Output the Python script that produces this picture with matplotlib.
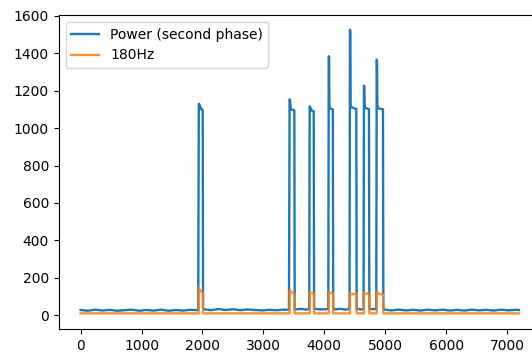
import matplotlib
matplotlib.use("Agg")
import matplotlib.pyplot as plt

# blue: "Power (second phase)" -- breakpoints
power_x = [0, 120, 240, 360, 480, 600, 720, 840, 960, 1080, 1200, 1320, 1440,
           1560, 1680, 1800, 1930,
           1940, 1946, 1972, 1978, 2004, 2010,
           2025, 2140, 2260, 2380, 2500, 2620, 2740, 2860, 2980, 3100, 3220, 3340, 3420,
           3430, 3436, 3450, 3456, 3508, 3514,
           3530, 3620, 3700, 3752,
           3760, 3766, 3790, 3796, 3826, 3832,
           3848, 3940, 4065,
           4073, 4078, 4083, 4092, 4140, 4146,
           4162, 4260, 4350, 4414,
           4421, 4426, 4431, 4446, 4525, 4531,
           4546, 4600, 4644,
           4651, 4656, 4661, 4676, 4733, 4739,
           4754, 4810, 4853,
           4860, 4865, 4870, 4886, 4963, 4969,
           4985, 5100, 5220, 5340, 5460, 5580, 5700, 5820, 5940, 6060, 6180, 6300,
           6420, 6540, 6660, 6780, 6900, 7020, 7140, 7195]
power_y = [29, 25, 31, 26, 30, 25, 28, 31, 25, 29, 26, 31, 25, 29, 26, 30, 28,
           1130, 1128, 1110, 1100, 1098, 30,
           33, 28, 34, 29, 33, 28, 32, 29, 27, 30, 28, 31, 30,
           1153, 1150, 1104, 1098, 1095, 33,
           32, 35, 31, 34,
           1116, 1112, 1095, 1092, 1090, 33,
           35, 32, 34,
           1383, 1380, 1122, 1105, 1100, 34,
           32, 35, 31, 34,
           1524, 1520, 1127, 1110, 1102, 33,
           35, 32, 34,
           1226, 1222, 1118, 1108, 1100, 34,
           32, 35, 32,
           1365, 1360, 1122, 1105, 1100, 35,
           31, 27, 31, 27, 30, 26, 31, 27, 31, 26, 30, 26, 31, 27, 30, 26, 31, 27,
           30, 29]

# orange: "180Hz"
hz_x = [0, 1938, 1940, 1950, 2008, 2010,
        3430, 3432, 3442, 3512, 3514,
        3760, 3762, 3772, 3830, 3832,
        4073, 4075, 4085, 4144, 4146,
        4421, 4423, 4440, 4460, 4470, 4529, 4531,
        4651, 4653, 4665, 4737, 4739,
        4860, 4862, 4875, 4900, 4967, 4969, 7195]
hz_y = [11, 11, 150, 140, 118, 11,
        11, 138, 128, 115, 11,
        11, 126, 122, 118, 11,
        11, 126, 122, 118, 11,
        11, 118, 116, 112, 116, 114, 11,
        11, 120, 118, 116, 11,
        11, 126, 124, 115, 112, 11, 11]

fig = plt.figure(figsize=(5.32, 3.53), dpi=100)
ax = fig.add_axes([0.1103, 0.0671, 0.907, 0.8904])

ax.plot(power_x, power_y, color="#1f77b4", lw=1.7, label="Power (second phase)")
ax.plot(hz_x, hz_y, color="#ff7f0e", lw=1.7, alpha=0.85, label="180Hz")

ax.set_xlim(-360, 7560)
ax.set_ylim(-74, 1603)
ax.set_xticks(range(0, 8000, 1000))
ax.set_yticks(range(0, 1601, 200))
ax.legend(loc="upper left")

fig.savefig("out.png", dpi=100)
